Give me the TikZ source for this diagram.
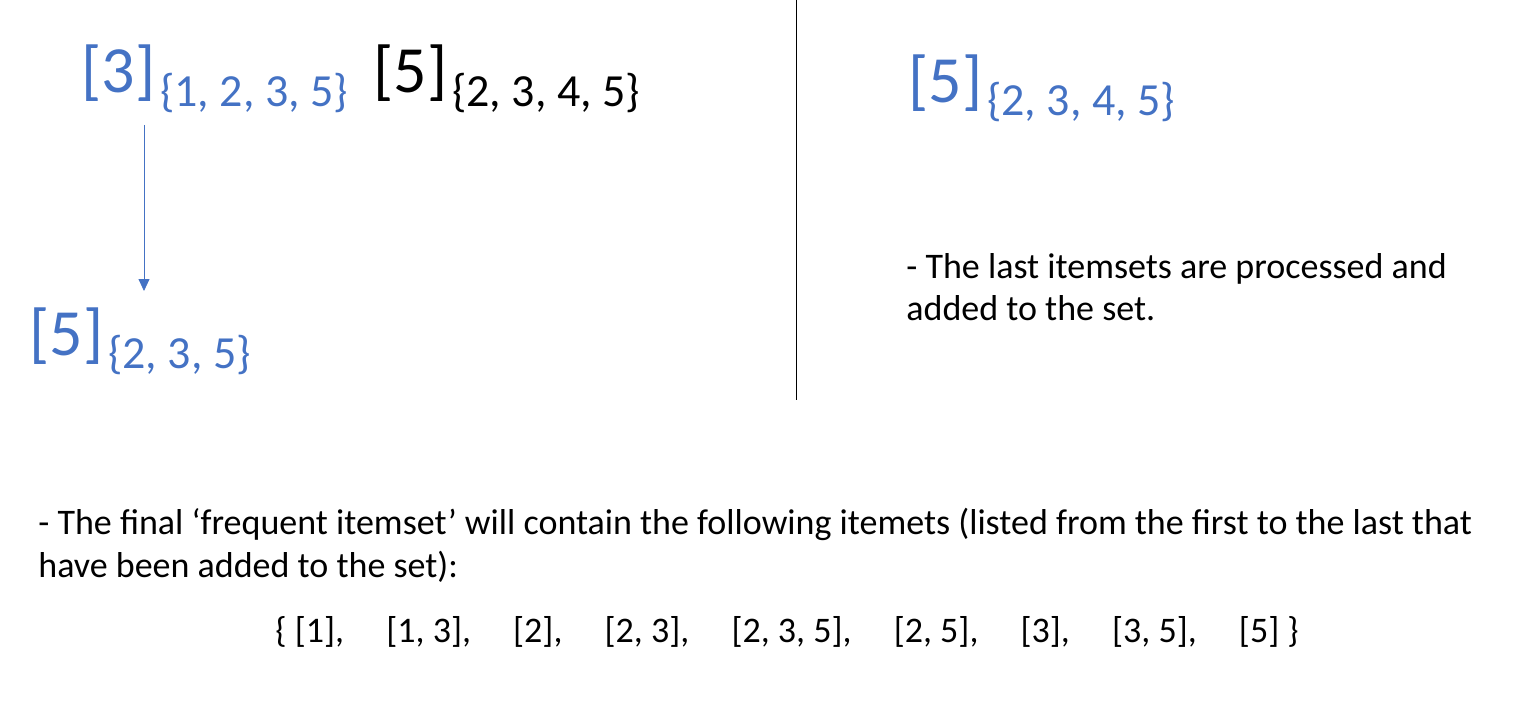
\documentclass[tikz,border=0pt]{standalone}
\usepackage{fontspec}
\setmainfont{Carlito}
\usepackage{xcolor}
\usetikzlibrary{arrows.meta}

\definecolor{itemblue}{HTML}{4472C4}

\begin{document}
\begin{tikzpicture}[
  x=0.5pt, y=-0.5pt,
  big/.style={anchor=base west,inner sep=0pt,font=\fontsize{33}{40}\selectfont},
  sub/.style={anchor=base west,inner sep=0pt,font=\fontsize{23}{28}\selectfont},
  note/.style={anchor=base west,inner sep=0pt,font=\fontsize{18}{22}\selectfont}
]
  \useasboundingbox (0,0) rectangle (1520,706);
  % left half
  \node[big,itemblue] (item3) at (81,93) {[3]};
  \node[sub,itemblue] (tid3) at ([xshift=2pt,yshift=-6.5pt]item3.base east) {\{1, 2, 3, 5\}};
  \node[big] (item5) at (373,93) {[5]};
  \node[sub] (tid5) at ([xshift=2pt,yshift=-6.5pt]item5.base east) {\{2, 3, 4, 5\}};
  \node[big,itemblue] (item35) at (29,355) {[5]};
  \node[sub,itemblue] (tid35) at ([xshift=2pt,yshift=-6.5pt]item35.base east) {\{2, 3, 5\}};
  \coordinate (arrTop) at (144,125);
  \coordinate (arrEnd) at (144,291);
  \draw[itemblue,-{Triangle[length=6pt,width=5.5pt]}] (arrTop) -- (arrEnd);
  % divider
  \coordinate (divTop) at (796,0);
  \coordinate (divEnd) at (796,400);
  \draw (divTop) -- (divEnd);
  % right half
  \node[big,itemblue] (lastItem) at (908,103) {[5]};
  \node[sub,itemblue] (lastTid) at ([xshift=2pt,yshift=-6.5pt]lastItem.base east) {\{2, 3, 4, 5\}};
  \node[note] (lastNoteA) at (906,278) {- The last itemsets are processed and};
  \node[note] (lastNoteB) at (906,320) {added to the set.};
  % bottom
  \node[note] (finalNoteA) at (38,534) {- The final ‘frequent itemset’ will contain the following itemets (listed from the first to the last that};
  \node[note] (finalNoteB) at (38,577) {have been added to the set):};
  \node[note] (finalSet) at (275,642) {\{ [1],\hspace{1.17em}[1, 3],\hspace{1.17em}[2],\hspace{1.17em}[2, 3],\hspace{1.17em}[2, 3, 5],\hspace{1.17em}[2, 5],\hspace{1.17em}[3],\hspace{1.17em}[3, 5],\hspace{1.17em}[5] \}};
\end{tikzpicture}
\end{document}
